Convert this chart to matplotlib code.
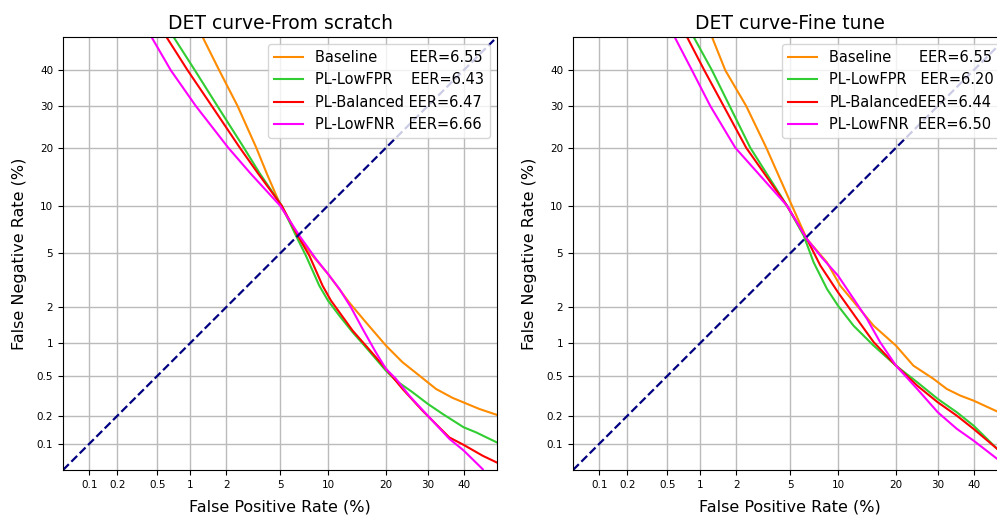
import numpy as np
import matplotlib
matplotlib.use('Agg')
import matplotlib.pyplot as plt
from statistics import NormalDist

# values, in percent
tick_vals = [0.1, 0.2, 0.5, 1, 2, 5, 10, 20, 30, 40]
tick_labels = ['0.1', '0.2', '0.5', '1', '2', '5', '10', '20', '30', '40']
names = ['Baseline', 'PL-LowFPR', 'PL-Balanced', 'PL-LowFNR']
colors = ['darkorange', 'limegreen', 'red', 'magenta']

eer_scratch = [6.55, 6.43, 6.47, 6.66]
eer_tune = [6.55, 6.20, 6.44, 6.50]

# From scratch
s_base_fpr = [1.28, 1.76, 2.46, 3.4, 4.04, 5.05, 6.54, 8.1, 10, 13.1, 16.0, 20, 23.7, 27.8, 32.2, 36.8, 44.7, 50]
s_base_fnr = [50, 40, 30, 20, 15, 10, 6.56, 4.83, 3.59, 2.19, 1.51, 0.95, 0.672, 0.504, 0.374, 0.305, 0.235, 0.204]
s_fpr_fpr = [0.71, 1.1, 1.7, 2.75, 3.6, 5.13, 6.37, 7.37, 8.89, 10, 11.6, 13.7, 16.0, 20, 22.2, 26.1, 30, 34.0, 40, 43.7, 50]
s_fpr_fnr = [50, 40, 30, 20, 15, 10, 6.56, 4.83, 2.94, 2.26, 1.71, 1.24, 0.92, 0.56, 0.451, 0.347, 0.265, 0.209, 0.151, 0.133, 0.103]
s_bal_fpr = [0.61, 0.95, 1.53, 2.56, 3.5, 5.13, 6.54, 7.74, 9.3, 10.4, 13.7, 16.0, 20, 23.7, 28.6, 35.9, 40, 45.7, 50]
s_bal_fnr = [50, 40, 30, 20, 15, 10, 6.56, 4.83, 2.94, 2.26, 1.28, 0.95, 0.583, 0.374, 0.226, 0.117, 0.097, 0.073, 0.061]
s_fnr_fpr = [0.44, 0.67, 1.12, 2.08, 3.08, 5.0, 6.7, 8.5, 10, 11.6, 13.4, 15.4, 17.9, 20, 22.2, 25.3, 30, 35.9, 40, 45.7]
s_fnr_fnr = [50, 40, 30, 20, 15, 10, 6.56, 4.58, 3.59, 2.78, 2.0, 1.33, 0.83, 0.583, 0.468, 0.321, 0.2, 0.113, 0.084, 0.051]

# Fine tune
t_base_fpr = [1.265, 1.635, 2.40, 3.40, 5.15, 6.46, 8.61, 10.3, 12.76, 15.6, 20, 23.9, 28.9, 32.4, 36.2, 40, 47.1]
t_base_fnr = [50, 40, 30, 20, 10, 6.24, 4.34, 2.94, 2.06, 1.41, 0.95, 0.625, 0.468, 0.374, 0.321, 0.286, 0.221]
t_fpr_fpr = [0.876, 1.265, 1.774, 2.58, 4.76, 6.16, 7.13, 8.61, 10, 12.24, 15.6, 20, 24.8, 30, 35.2, 40, 47.1]
t_fpr_fnr = [50, 40, 30, 20, 10, 6.56, 4.34, 2.78, 2.06, 1.41, 0.95, 0.625, 0.435, 0.297, 0.217, 0.157, 0.087]
t_bal_fpr = [0.763, 1.087, 1.584, 2.40, 4.76, 6.46, 7.85, 10, 12.76, 15.6, 20, 24.8, 30, 35.2, 40, 47.1]
t_bal_fnr = [50, 40, 30, 20, 10, 6.24, 4.12, 2.62, 1.61, 1.02, 0.625, 0.403, 0.275, 0.2, 0.145, 0.087]
t_fnr_fpr = [0.587, 0.846, 1.224, 1.97, 4.76, 6.46, 8.0, 10, 12.24, 14.42, 16.8, 20, 24.8, 30, 35.2, 40, 47.1]
t_fnr_fnr = [50, 40, 30, 20, 10, 6.24, 4.7, 3.49, 2.33, 1.61, 1.02, 0.625, 0.374, 0.217, 0.145, 0.108, 0.067]

scratch = [(s_base_fpr, s_base_fnr), (s_fpr_fpr, s_fpr_fnr), (s_bal_fpr, s_bal_fnr), (s_fnr_fpr, s_fnr_fnr)]
tune = [(t_base_fpr, t_base_fnr), (t_fpr_fpr, t_fpr_fnr), (t_bal_fpr, t_bal_fnr), (t_fnr_fpr, t_fnr_fnr)]

_nd = NormalDist()
_ppf = np.vectorize(_nd.inv_cdf, otypes=[float])
_cdf = np.vectorize(_nd.cdf, otypes=[float])


def probit(p):
    p = np.clip(np.asarray(p, dtype=float) / 100.0, 1e-9, 1 - 1e-9)
    return _ppf(p)


def inv_probit(z):
    return _cdf(np.asarray(z, dtype=float)) * 100.0


def det_panel(ax, curves, eers, pads, title):
    ax.set_xscale('function', functions=(probit, inv_probit))
    ax.set_yscale('function', functions=(probit, inv_probit))
    for (fpr, fnr), name, eer, pad, c in zip(curves, names, eers, pads, colors):
        ax.plot(fpr, fnr, color=c, lw=1.5,
                label=name + ' ' * pad + 'EER=%.2f' % eer)
    ax.plot([0.05, 50], [0.05, 50], color='navy', lw=1.6, ls='--')
    ax.set_xlim(0.05, 50)
    ax.set_ylim(0.05, 50)
    ax.set_xticks(tick_vals, labels=tick_labels, fontsize=7.5)
    ax.set_yticks(tick_vals, labels=tick_labels, fontsize=7.5)
    ax.grid(True, color='#bbbbbb', lw=1.0)
    ax.set_axisbelow(True)
    ax.set_xlabel('False Positive Rate (%)', fontsize=11.5, labelpad=7)
    ax.set_ylabel('False Negative Rate (%)', fontsize=11.5, labelpad=7)
    ax.set_title(title, fontsize=13.5)
    ax.legend(loc='upper right', fontsize=10.5)


fig = plt.figure(figsize=(9.97, 5.15), dpi=100)
ax1 = fig.add_axes([63 / 997, 45 / 515, 434 / 997, 433 / 515])
ax2 = fig.add_axes([573 / 997, 45 / 515, 434 / 997, 433 / 515])

det_panel(ax1, scratch, eer_scratch, [7, 4, 1, 3], 'DET curve-From scratch')
det_panel(ax2, tune, eer_tune, [6, 3, 0, 2], 'DET curve-Fine tune')

fig.savefig('out.png', dpi=100)
